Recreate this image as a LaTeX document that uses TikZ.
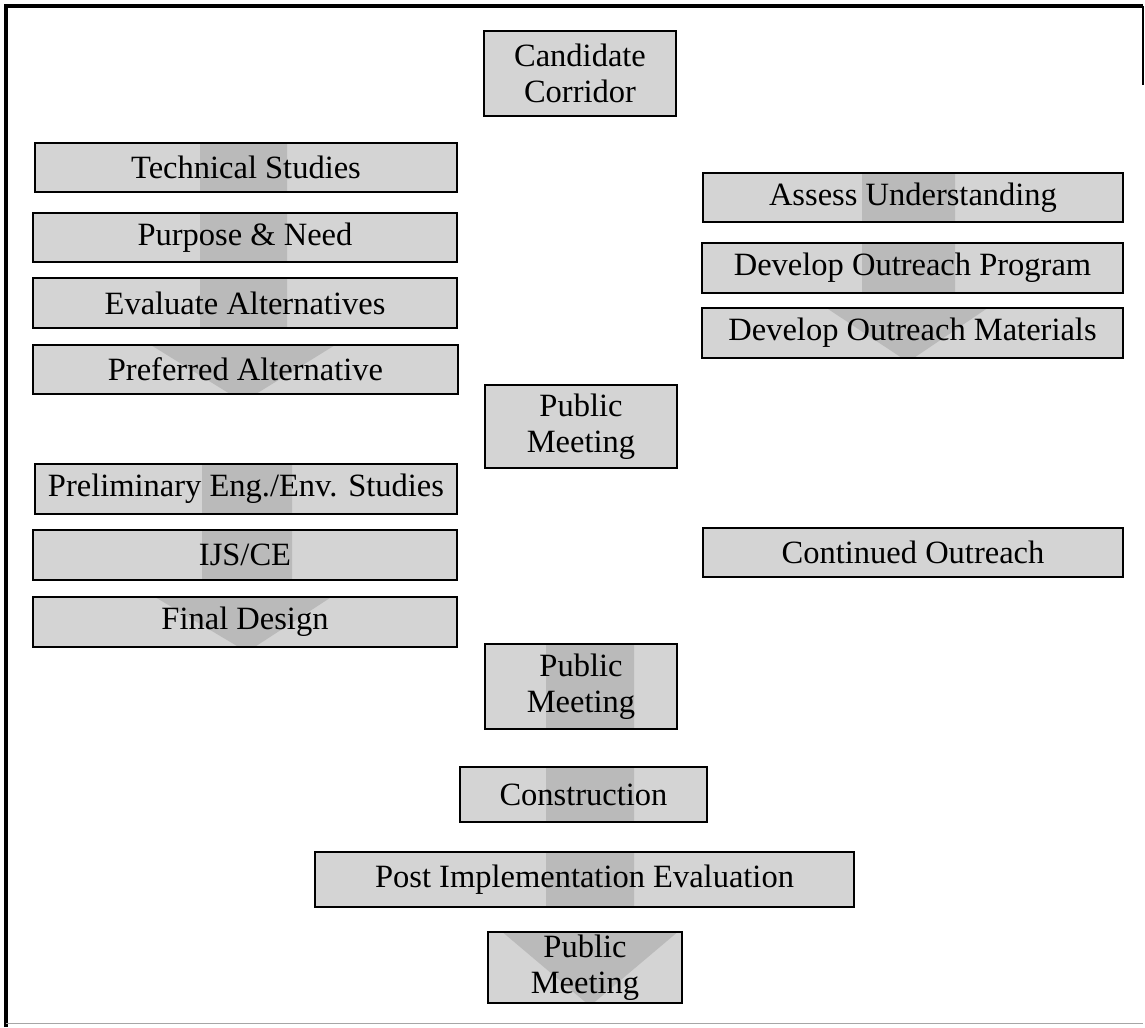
\documentclass[tikz,border=0pt]{standalone}
\usepackage{fontspec}
\setmainfont{Liberation Serif}
\usetikzlibrary{backgrounds}
\tikzset{
  boxs/.style={draw=black, line width=1.1pt, fill=none, inner sep=0pt, align=center,
    font=\fontsize{18.5}{20.5}\selectfont, text=black},
  basefill/.style={fill=black!17},
  arrowfill/.style={fill=black!27},
  frameline/.style={line width=1.8pt, black}
}
\newcommand\pbox[6]{\node[boxs, minimum width={(#4-#2)*0.02cm}, minimum height={(#5-#3)*0.02cm}] (#1) at ({(#2+#4)/2},{(#3+#5)/2}) {#6};}
\newcommand\rectof[1]{(#1.south west) rectangle (#1.north east)}
\begin{document}
\begin{tikzpicture}[x=0.02cm,y=-0.02cm]
\useasboundingbox (0,0) rectangle (1145,1027);
% frame
\draw[frameline] (6,1027) -- (6,6) -- (1143,6);
\draw[line width=0.8pt] (1143,6) -- (1143,85);
\draw[black!35, line width=0.5pt] (6,1023) -- (1143,1023);
% boxes
\pbox{cc}{484}{31}{676}{116}{Candidate\\Corridor}
\pbox{ts}{35}{143}{457}{192}{Technical Studies}
\pbox{pn}{33}{213}{457}{262}{Purpose \& Need}
\pbox{ea}{33}{278}{457}{328}{Evaluate Alternatives}
\pbox{pa}{33}{345}{458}{394}{Preferred Alternative}
\pbox{au}{703}{173}{1123}{222}{Assess Understanding}
\pbox{dp}{702}{243}{1123}{293}{Develop Outreach Program}
\pbox{dm}{702}{308}{1123}{358}{Develop Outreach Materials}
\pbox{pm1}{485}{385}{677}{468}{Public\\Meeting}
\pbox{pe}{35}{464}{457}{514}{Preliminary Eng./Env. Studies}
\pbox{ij}{33}{530}{457}{580}{IJS/CE}
\pbox{fd}{33}{597}{457}{647}{Final Design}
\pbox{co}{703}{528}{1123}{577}{Continued Outreach}
\pbox{pm2}{485}{644}{677}{729}{Public\\Meeting}
\pbox{cn}{460}{767}{707}{822}{Construction}
\pbox{pi}{315}{852}{854}{907}{Post Implementation Evaluation}
\pbox{pm3}{488}{932}{682}{1003}{Public\\Meeting}
\begin{scope}[on background layer]
  \fill[basefill] \rectof{cc} \rectof{ts} \rectof{pn} \rectof{ea} \rectof{pa}
    \rectof{au} \rectof{dp} \rectof{dm} \rectof{pm1} \rectof{pe} \rectof{ij}
    \rectof{fd} \rectof{co} \rectof{pm2} \rectof{cn} \rectof{pi} \rectof{pm3};
  \begin{scope}
    \clip \rectof{ts} \rectof{pn} \rectof{ea} \rectof{pa}
      \rectof{au} \rectof{dp} \rectof{dm} \rectof{pe} \rectof{ij}
      \rectof{fd} \rectof{pm2} \rectof{cn} \rectof{pi} \rectof{pm3};
    % left upper arrow
    \fill[arrowfill] (200,140) -- (287,140) -- (287,342) -- (340,342) -- (243,402) -- (146,342) -- (200,342) -- cycle;
    % left lower arrow
    \fill[arrowfill] (202,460) -- (292,460) -- (292,594) -- (336,594) -- (247,652) -- (150,594) -- (202,594) -- cycle;
    % right arrow
    \fill[arrowfill] (862,170) -- (955,170) -- (955,305) -- (992,305) -- (908,362) -- (822,305) -- (862,305) -- cycle;
    % centre arrow
    \fill[arrowfill] (546,640) -- (634,640) -- (634,930) -- (680,930) -- (590,1006) -- (500,930) -- (546,930) -- cycle;
  \end{scope}
\end{scope}
\end{tikzpicture}
\end{document}
